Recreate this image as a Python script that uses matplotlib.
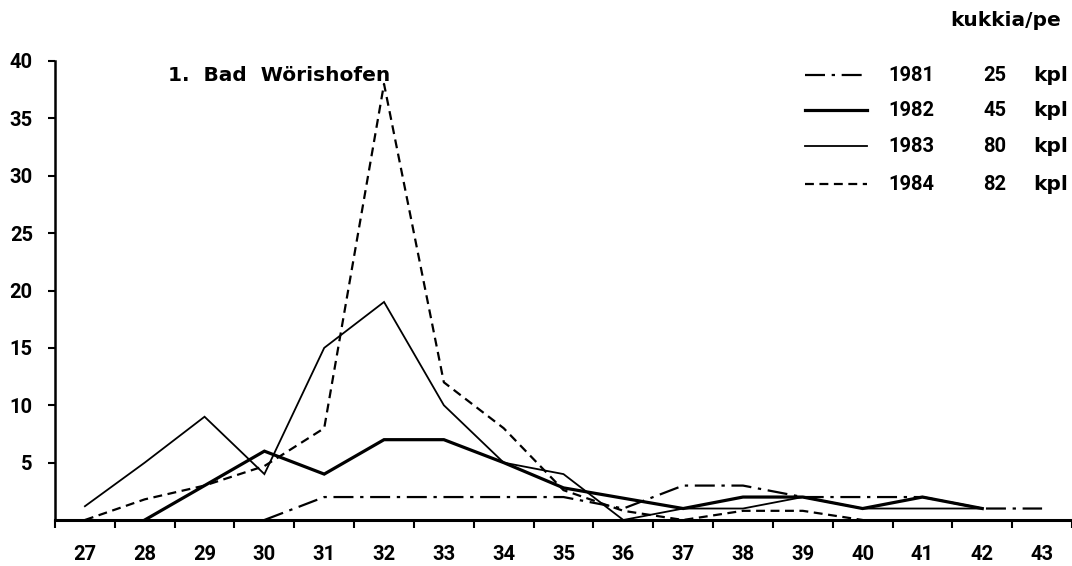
import matplotlib.pyplot as plt
from matplotlib.lines import Line2D

# weeks on the x axis
weeks = list(range(27, 44))

# flowers per plant, one series per year
x1981 = list(range(30, 44))
v1981 = [0, 2, 2, 2, 2, 2, 1, 3, 3, 2, 2, 2, 1, 1]
x1982 = list(range(28, 43))
v1982 = [0, 3, 6, 4, 7, 7, 5, 2.8, 1.9, 1, 2, 2, 1, 2, 1]
x1983 = list(range(27, 43))
v1983 = [1.2, 5, 9, 4, 15, 19, 10, 5, 4, 0, 1, 1, 2, 1, 1, 1]
x1984 = list(range(27, 41))
v1984 = [0, 1.8, 3, 4.7, 8, 38, 12, 8, 2.6, 0.8, 0, 0.8, 0.8, 0]

years = ["1981", "1982", "1983", "1984"]
counts = ["25", "45", "80", "82"]

plt.rcParams["font.family"] = ["Roboto", "DejaVu Sans"]
WORD_FONT = ["DejaVu Sans"]
FS = 14.5
W, H = 1072, 566

fig = plt.figure(figsize=(W / 100, H / 100), dpi=100)
ax = fig.add_axes([55 / W, 46 / H, (W - 55) / W, 459 / H])

styles = [
    dict(color="black", lw=1.6, dashes=(9, 3, 1.5, 3)),
    dict(color="black", lw=2.3, linestyle="-"),
    dict(color="black", lw=1.3, linestyle="-"),
    dict(color="black", lw=1.6, dashes=(4, 2.5)),
]
series = [(x1981, v1981), (x1982, v1982), (x1983, v1983), (x1984, v1984)]
for (xs, vs), st in zip(series, styles):
    ax.plot(xs, vs, solid_joinstyle="miter", **st)

ax.set_xlim(26.5, 26.5 + (W - 55) / 60)
ax.set_ylim(0, 40)

ax.spines[["top", "right"]].set_visible(False)
ax.spines["left"].set_linewidth(1.8)
ax.spines["bottom"].set_linewidth(2.2)

ax.set_yticks(range(5, 41, 5))
ax.set_yticklabels([str(v) for v in range(5, 41, 5)], fontsize=FS, fontweight="bold")
ax.tick_params(axis="y", direction="out", length=5, width=1.5, pad=11)

# tick marks between the weeks, labels centred on the weeks
ax.set_xticks([w - 0.5 for w in weeks] + [43.5])
ax.set_xticklabels([])
ax.tick_params(axis="x", which="major", direction="out", length=6, width=1.5)
ax.set_xticks(weeks, minor=True)
ax.set_xticklabels([str(w) for w in weeks], minor=True, fontsize=FS, fontweight="bold")
ax.tick_params(axis="x", which="minor", length=0, pad=18)

fig.text(168 / W, 1 - 75 / H, "1.  Bad  Wörishofen", fontsize=FS, fontweight="bold",
         family=WORD_FONT, va="center", ha="left")
fig.text(950 / W, 1 - 20 / H, "kukkia/pe", fontsize=FS, fontweight="bold",
         family=WORD_FONT, va="center", ha="left")

# legend drawn by hand so the columns line up
rows = [75, 110, 146, 184]
for yr, cnt, st, ry in zip(years, counts, styles, rows):
    yf = 1 - ry / H
    fig.add_artist(Line2D([805 / W, 867 / W], [yf, yf], transform=fig.transFigure, **st))
    fig.text(888 / W, yf, yr, fontsize=FS, fontweight="bold", va="center")
    fig.text(983 / W, yf, cnt, fontsize=FS, fontweight="bold", va="center")
    fig.text(1033 / W, yf, "kpl", fontsize=FS, fontweight="bold", family=WORD_FONT,
             va="center")

fig.savefig("out.png", dpi=100)
